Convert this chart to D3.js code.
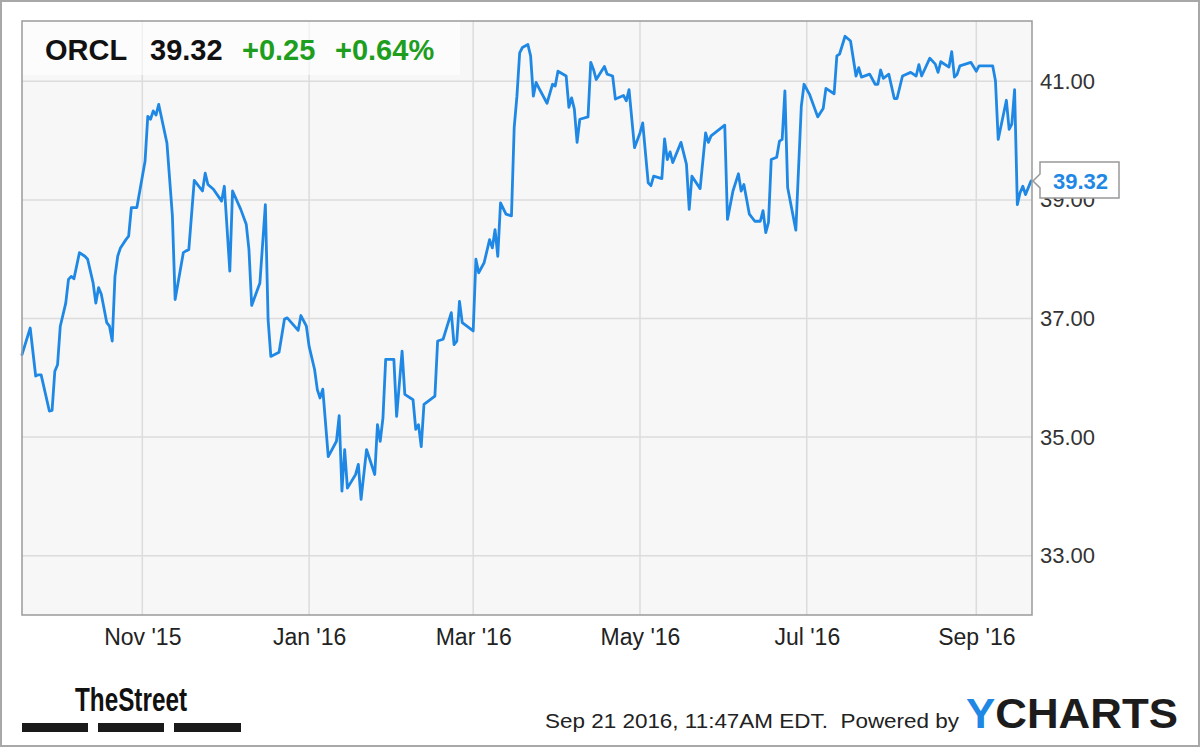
<!DOCTYPE html>
<html>
<head>
<meta charset="utf-8">
<script src="https://cdn.jsdelivr.net/npm/d3@7"></script>
<style>
  html, body { margin: 0; padding: 0; background: #fff; }
  svg { display: block; }
  text { font-family: "Liberation Sans", Arial, sans-serif; }
</style>
</head>
<body>
<svg id="chart" width="1200" height="747"></svg>
<script>
// ---- DATA ----
const ticker = "ORCL";
const lastPrice = "39.32";
const change = "+0.25";
const changePct = "+0.64%";

const dates = [
"2015-09-18","2015-09-21","2015-09-23","2015-09-24","2015-09-25","2015-09-28","2015-09-29","2015-09-30",
"2015-10-01","2015-10-02","2015-10-04","2015-10-05","2015-10-06","2015-10-07","2015-10-09","2015-10-11",
"2015-10-12","2015-10-14","2015-10-15","2015-10-16","2015-10-17","2015-10-19","2015-10-20","2015-10-21",
"2015-10-22","2015-10-23","2015-10-24","2015-10-26","2015-10-27","2015-10-28","2015-10-30","2015-11-02",
"2015-11-03","2015-11-04","2015-11-05","2015-11-06","2015-11-07","2015-11-10","2015-11-12","2015-11-13",
"2015-11-16","2015-11-17","2015-11-18","2015-11-20","2015-11-23","2015-11-24","2015-11-25","2015-11-27",
"2015-11-30","2015-12-01","2015-12-03","2015-12-04","2015-12-07","2015-12-09","2015-12-10","2015-12-11",
"2015-12-14","2015-12-16","2015-12-17","2015-12-18","2015-12-21","2015-12-23","2015-12-24","2015-12-28",
"2015-12-29","2015-12-31","2016-01-01","2016-01-03","2016-01-04","2016-01-05","2016-01-06","2016-01-08",
"2016-01-11","2016-01-12","2016-01-13","2016-01-14","2016-01-15","2016-01-18","2016-01-19","2016-01-20",
"2016-01-22","2016-01-25","2016-01-26","2016-01-27","2016-01-28","2016-01-29","2016-02-01","2016-02-02",
"2016-02-04","2016-02-05","2016-02-08","2016-02-09","2016-02-10","2016-02-11","2016-02-12","2016-02-16",
"2016-02-17","2016-02-19","2016-02-22","2016-02-23","2016-02-24","2016-02-25","2016-02-26","2016-03-01",
"2016-03-02","2016-03-03","2016-03-05","2016-03-07","2016-03-08","2016-03-09","2016-03-10","2016-03-11",
"2016-03-13","2016-03-15","2016-03-16","2016-03-17","2016-03-18","2016-03-19","2016-03-21","2016-03-22",
"2016-03-23","2016-03-24","2016-03-25","2016-03-28","2016-03-30","2016-03-31","2016-04-01","2016-04-04",
"2016-04-05","2016-04-06","2016-04-07","2016-04-08","2016-04-09","2016-04-12","2016-04-13","2016-04-14",
"2016-04-15","2016-04-18","2016-04-19","2016-04-21","2016-04-22","2016-04-25","2016-04-26","2016-04-27",
"2016-04-29","2016-05-01","2016-05-02","2016-05-04","2016-05-05","2016-05-06","2016-05-09","2016-05-10",
"2016-05-11","2016-05-12","2016-05-13","2016-05-16","2016-05-18","2016-05-19","2016-05-20","2016-05-23",
"2016-05-25","2016-05-26","2016-05-27","2016-06-01","2016-06-02","2016-06-04","2016-06-06","2016-06-07",
"2016-06-08","2016-06-10","2016-06-12","2016-06-14","2016-06-15","2016-06-16","2016-06-17","2016-06-18",
"2016-06-20","2016-06-21","2016-06-22","2016-06-23","2016-06-24","2016-06-27","2016-06-29","2016-06-30",
"2016-07-02","2016-07-05","2016-07-07","2016-07-08","2016-07-11","2016-07-12","2016-07-13","2016-07-15",
"2016-07-17","2016-07-19","2016-07-20","2016-07-21","2016-07-24","2016-07-26","2016-07-27","2016-07-28",
"2016-07-29","2016-07-31","2016-08-02","2016-08-03","2016-08-05","2016-08-08","2016-08-10","2016-08-11",
"2016-08-12","2016-08-15","2016-08-17","2016-08-18","2016-08-19","2016-08-22","2016-08-23","2016-08-24",
"2016-08-25","2016-08-26","2016-08-30","2016-09-01","2016-09-02","2016-09-07","2016-09-08","2016-09-09",
"2016-09-12","2016-09-13","2016-09-14","2016-09-15","2016-09-16","2016-09-17","2016-09-18","2016-09-19",
"2016-09-21"
];

const prices = [
36.39,36.84,36.03,36.05,36.05,35.44,35.45,36.11,
36.22,36.87,37.26,37.66,37.71,37.67,38.11,38.05,
38.00,37.60,37.26,37.52,37.41,36.93,36.87,36.62,
37.71,38.05,38.19,38.33,38.39,38.87,38.87,39.65,
40.41,40.36,40.50,40.43,40.61,39.96,38.73,37.32,
38.11,38.14,38.16,39.33,39.15,39.45,39.26,39.18,
38.98,39.23,37.80,39.15,38.84,38.59,38.16,37.22,
37.60,38.92,36.98,36.36,36.43,36.99,37.01,36.80,
37.05,36.87,36.53,36.14,35.80,35.66,35.81,34.67,
34.93,35.36,34.09,34.79,34.14,34.37,34.54,33.95,
34.79,34.37,35.21,34.93,35.32,36.31,36.31,35.35,
36.45,35.72,35.63,35.13,35.21,34.84,35.55,35.69,
36.62,36.65,37.10,36.56,36.62,37.29,36.93,36.79,
38.00,37.77,37.94,38.33,38.19,38.50,38.05,38.95,
38.76,38.73,40.22,40.75,41.48,41.57,41.62,41.43,
40.75,40.98,40.89,40.63,40.95,40.92,41.17,41.09,
40.56,40.72,40.53,39.97,40.36,40.40,41.32,41.20,
41.03,41.25,41.12,41.09,40.70,40.76,40.67,40.86,
39.88,40.13,40.30,39.29,39.24,39.40,39.36,40.03,
39.68,39.81,39.63,39.97,39.60,38.84,39.40,39.19,
40.13,39.97,40.08,40.26,38.67,39.15,39.44,39.15,
39.26,38.76,38.64,38.64,38.82,38.45,38.62,39.68,
39.72,39.99,40.02,40.84,39.21,38.49,40.58,40.95,
40.78,40.40,40.54,40.88,40.79,41.43,41.46,41.76,
41.68,41.09,41.23,41.07,41.12,40.95,40.95,41.19,
41.05,41.12,40.71,40.71,41.09,41.15,41.09,41.28,
41.09,41.39,41.29,41.15,41.33,41.24,41.50,41.07,
41.12,41.26,41.32,41.17,41.26,41.26,41.01,40.02,
40.68,40.19,40.28,40.86,38.92,39.12,39.23,39.09,
39.32
];

const yTicks = [33, 35, 37, 39, 41];
const xTickDates = ["2015-11-01","2016-01-01","2016-03-01","2016-05-01","2016-07-01","2016-09-01"];
const xTickLabels = ["Nov '15","Jan '16","Mar '16","May '16","Jul '16","Sep '16"];
const xDomain = ["2015-09-18","2016-09-21"];
const yDomain = [32, 42];
const footerText = "Sep 21 2016, 11:47AM EDT.  Powered by";

// ---- DRAW ----
const parse = d3.timeParse("%Y-%m-%d");
const data = dates.map((d, i) => ({ date: parse(d), value: prices[i] }));

const W = 1200, H = 747;
const plot = { left: 22, right: 1032, top: 21, bottom: 615 };

const svg = d3.select("#chart");

// outer frame
svg.append("rect").attr("x", 1).attr("y", 1).attr("width", W - 2).attr("height", H - 2)
  .attr("fill", "#fff").attr("stroke", "#a8a8a8").attr("stroke-width", 2);

const x = d3.scaleTime().domain(xDomain.map(parse)).range([plot.left, plot.right - 1]);
const y = d3.scaleLinear().domain(yDomain).range([plot.bottom, plot.top + 1]);

// plot background
svg.append("rect").attr("x", plot.left).attr("y", plot.top)
  .attr("width", plot.right - plot.left).attr("height", plot.bottom - plot.top)
  .attr("fill", "#f7f7f7");

// gridlines
const grid = svg.append("g").attr("stroke", "#dcdcdc").attr("stroke-width", 1.5);
grid.selectAll("line.h").data(yTicks).join("line")
  .attr("x1", plot.left).attr("x2", plot.right)
  .attr("y1", d => y(d)).attr("y2", d => y(d));
grid.selectAll("line.v").data(xTickDates.map(parse)).join("line")
  .attr("x1", d => x(d)).attr("x2", d => x(d))
  .attr("y1", plot.top).attr("y2", plot.bottom);

// header box (semi-transparent)
svg.append("rect").attr("x", plot.left).attr("y", plot.top)
  .attr("width", 438).attr("height", 54)
  .attr("fill", "#ffffff").attr("fill-opacity", 0.6);

// price line
const line = d3.line().x(d => x(d.date)).y(d => y(d.value));
svg.append("path").datum(data)
  .attr("fill", "none").attr("stroke", "#1f88e5").attr("stroke-width", 2.8)
  .attr("stroke-linejoin", "round").attr("stroke-linecap", "round").attr("d", line);

// plot border
svg.append("rect").attr("x", plot.left).attr("y", plot.top)
  .attr("width", plot.right - plot.left).attr("height", plot.bottom - plot.top)
  .attr("fill", "none").attr("stroke", "#9a9a9a").attr("stroke-width", 1.5);

// right axis
const yAxis = d3.axisRight(y).tickValues(yTicks).tickFormat(d3.format(".2f"))
  .tickSize(0).tickPadding(8);
const gy = svg.append("g").attr("transform", `translate(${plot.right},0)`).call(yAxis);
gy.select(".domain").remove();
gy.selectAll("text").attr("font-size", 22).attr("fill", "#333")
  .attr("font-family", "Liberation Sans, Arial, sans-serif");

// bottom axis
const xAxis = d3.axisBottom(x).tickValues(xTickDates.map(parse))
  .tickFormat((d, i) => xTickLabels[i]).tickSize(0).tickPadding(14);
const gx = svg.append("g").attr("transform", `translate(0,${plot.bottom})`).call(xAxis);
gx.select(".domain").remove();
gx.selectAll("text").attr("font-size", 23).attr("fill", "#222")
  .attr("font-family", "Liberation Sans, Arial, sans-serif");

// header texts
const hdr = svg.append("g").attr("font-weight", "bold").attr("font-size", 29);
hdr.append("text").attr("x", 45).attr("y", 60).attr("fill", "#111").text(ticker);
hdr.append("text").attr("x", 150).attr("y", 60).attr("fill", "#111").text(lastPrice);
hdr.append("text").attr("x", 242).attr("y", 60).attr("fill", "#1e9e1e").text(change);
hdr.append("text").attr("x", 335).attr("y", 60).attr("fill", "#1e9e1e").text(changePct);

// last price pointer label (covers the 39.00 tick label, as in the original)
const last = data[data.length - 1];
const ly = y(last.value);
const bx0 = plot.right + 8, bx1 = 1119, by0 = ly - 19, by1 = ly + 17;
svg.append("path")
  .attr("d", `M${plot.right + 1},${ly} L${bx0},${ly - 7} L${bx0},${by0} L${bx1},${by0} L${bx1},${by1} L${bx0},${by1} L${bx0},${ly + 7} Z`)
  .attr("fill", "#fff").attr("stroke", "#999").attr("stroke-width", 1.5);
svg.append("text").attr("x", (bx0 + bx1) / 2 + 1).attr("y", ly + 8)
  .attr("text-anchor", "middle").attr("font-size", 22).attr("font-weight", "bold")
  .attr("fill", "#1f88e5").text(d3.format(".2f")(last.value));

// footer: TheStreet logo
svg.append("text").attr("x", 75).attr("y", 711)
  .attr("font-family", "Liberation Sans Narrow, Liberation Sans, Arial, sans-serif")
  .attr("font-weight", "bold").attr("font-size", 33).attr("fill", "#111")
  .attr("textLength", 112).attr("lengthAdjust", "spacingAndGlyphs").text("TheStreet");
const barXs = [[22, 88], [98, 164], [174, 241]];
svg.selectAll("rect.bar").data(barXs).join("rect")
  .attr("x", d => d[0]).attr("y", 723).attr("width", d => d[1] - d[0]).attr("height", 9)
  .attr("fill", "#1a1a1a");

// footer: timestamp + YCHARTS
svg.append("text").attr("x", 545).attr("y", 728)
  .attr("font-size", 21).attr("fill", "#222")
  .attr("textLength", 414).attr("lengthAdjust", "spacingAndGlyphs")
  .attr("style", "white-space:pre").text(footerText);
const yc = svg.append("text").attr("x", 966).attr("y", 728)
  .attr("font-size", 42).attr("font-weight", "bold")
  .attr("textLength", 212).attr("lengthAdjust", "spacingAndGlyphs");
yc.append("tspan").attr("fill", "#1f88e5").text("Y");
yc.append("tspan").attr("fill", "#1c1c1c").text("CHARTS");
</script>
</body>
</html>
